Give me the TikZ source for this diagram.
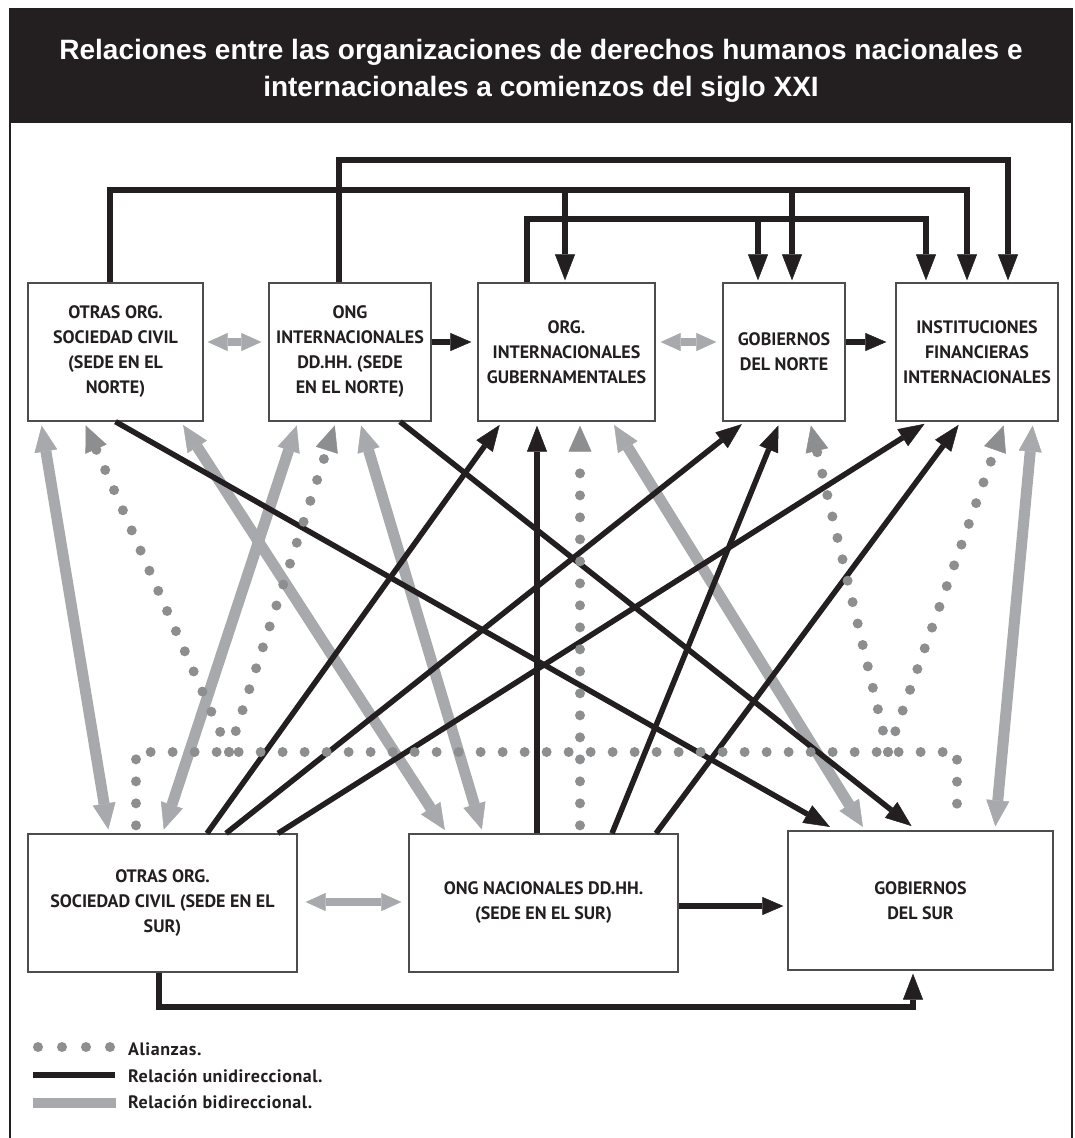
\documentclass[tikz,border=0pt]{standalone}
\usepackage{fontspec}
\setmainfont{PT Sans}
\newfontfamily\titlefont{Liberation Sans}
\newfontfamily\legendfont[LetterSpace=3]{PT Sans}
\usetikzlibrary{arrows.meta, calc}
\definecolor{ink}{HTML}{231F20}
\definecolor{bigrey}{HTML}{A7A9AC}
\definecolor{allygrey}{HTML}{8D8E90}
\definecolor{boxline}{HTML}{4D4D4F}
\begin{document}
\begin{tikzpicture}[
		x = 1pt, y = -1pt,
		box/.style = { draw = boxline, line width = 1.3pt, fill = white, minimum height = 138pt, inner sep = 0pt, align = center, text = ink, font = \fontsize{18}{25}\selectfont\bfseries },
		uni/.style = { draw = ink, line width = 5.5pt, shorten > = 4pt, -{Triangle[length = 26pt, width = 20pt, line width = 0.5pt]} },
		unih/.style = { uni, -{Triangle[length = 21pt, width = 18pt, line width = 0.5pt]} },
		bi/.style = { draw = bigrey, line width = 11pt, shorten > = 4pt, shorten < = 4pt, {Triangle[length = 26pt, width = 23pt, line width = 0.5pt]}-{Triangle[length = 26pt, width = 23pt, line width = 0.5pt]} },
		bih/.style = { bi, line width = 8.5pt, {Triangle[length = 20pt, width = 18pt, line width = 0.5pt]}-{Triangle[length = 20pt, width = 18pt, line width = 0.5pt]} },
		ally/.style = { draw = allygrey, line width = 10pt, line cap = round, dash pattern = on 0pt off 22pt },
		allytip/.style = { shorten > = 4pt, -{Triangle[length = 26pt, width = 23pt, line width = 0.5pt, color = allygrey]} },
		legend/.style = { anchor = base west, inner sep = 0pt, text = ink, font = \legendfont\fontsize{18}{20}\selectfont\bfseries }
	]
	\useasboundingbox (0,0) rectangle (1075,1138);
	\fill [ink] (10,9) rectangle (1072,123);
	\draw [ink, line width = 2pt] (10,1138) -- (10,9) -- (1072,9) -- (1072,1138);
	\node (title) [text = white, align = center, font = \titlefont\fontsize{28}{37}\selectfont\bfseries] at (541,71) { Relaciones entre las organizaciones de derechos humanos nacionales e\\internacionales a comienzos del siglo XXI };

	\node (civN) [box, minimum width = 175pt] at (115.5,352) { OTRAS ORG.\\SOCIEDAD CIVIL\\(SEDE EN EL\\NORTE) };
	\node (ongN) [box, minimum width = 162pt] at (350,352) { ONG\\INTERNACIONALES\\DD.HH. (SEDE\\EN EL NORTE) };
	\node (oig) [box, minimum width = 177pt] at (566.5,352) { ORG.\\INTERNACIONALES\\GUBERNAMENTALES };
	\node (govN) [box, minimum width = 122pt] at (784,352) { GOBIERNOS\\DEL NORTE };
	\node (ifi) [box, minimum width = 162pt] at (977,352) { INSTITUCIONES\\FINANCIERAS\\INTERNACIONALES };
	\node (civS) [box, minimum width = 269pt] at (162.5,903) { OTRAS ORG.\\SOCIEDAD CIVIL (SEDE EN EL\\SUR) };
	\node (ongS) [box, minimum width = 269pt] at (543.5,903) { ONG NACIONALES DD.HH.\\(SEDE EN EL SUR) };
	\node (govS) [box, minimum width = 265pt, minimum height = 139pt] at (920.5,900.5) { GOBIERNOS\\DEL SUR };

	\coordinate (routeA) at (0,160);
	\coordinate (routeB) at (0,190);
	\coordinate (routeC) at (0,219);
	\coordinate (routeS) at (0,1007);
	\coordinate (allyL) at (229,752);
	\coordinate (allyR) at (888,752);

	\draw [bi] ([xshift = -74.5pt]civN.south) -- ([xshift = -53.5pt]civS.north);
	\draw [bi] ([xshift = 65.5pt]civN.south) -- ([xshift = -96.5pt]ongS.north);
	\draw [bi] ([xshift = -52pt]ongN.south) -- (civS.north);
	\draw [bi] ([xshift = 10pt]ongN.south) -- ([xshift = -60.5pt]ongS.north);
	\draw [bi] ([xshift = 45.5pt]oig.south) -- ([xshift = -55.5pt]govS.north);
	\draw [bi] ([xshift = 56pt]ifi.south) -- ([xshift = 74.5pt]govS.north);
	\draw [bih, shorten < = 4pt, shorten > = 7pt] ([yshift = 10pt]civN.east) -- ([yshift = 10pt]ongN.west);
	\draw [bih, shorten < = 5pt, shorten > = 6pt] ([yshift = 10pt]oig.east) -- ([yshift = 10pt]govN.west);
	\draw [bih, shorten < = 8pt, shorten > = 7pt] ([yshift = 1pt]civS.east) -- ([yshift = 1pt]ongS.west);

	\draw [uni, shorten > = 2pt] ([xshift = -11pt]ongN.north) -- ([xshift = -11pt]ongN.north |- routeA) -| ([xshift = 31pt]ifi.north);
	\draw [uni, shorten > = 2pt] ([xshift = -5.5pt]civN.north) -- ([xshift = -5.5pt]civN.north |- routeB) -| ([xshift = -10pt]ifi.north);
	\draw [uni, shorten > = 2pt] ([xshift = -1.5pt]oig.north |- routeB) -- ([xshift = -1.5pt]oig.north);
	\draw [uni, shorten > = 2pt] ([xshift = 8pt]govN.north |- routeB) -- ([xshift = 8pt]govN.north);
	\draw [uni, shorten > = 2pt] ([xshift = -39.5pt]oig.north) -- ([xshift = -39.5pt]oig.north |- routeC) -| ([xshift = -51pt]ifi.north);
	\draw [uni, shorten > = 2pt] ([xshift = -26pt]govN.north |- routeC) -- ([xshift = -26pt]govN.north);
	\draw [unih, shorten > = 6pt] ([yshift = 10pt]ongN.east) -- ([yshift = 10pt]oig.west);
	\draw [unih, shorten > = 9pt] ([yshift = 10pt]govN.east) -- ([yshift = 10pt]ifi.west);
	\draw [unih] ([yshift = -3pt]ongS.east) -- ([yshift = -3pt]ongS.east -| govS.west);
	\draw [uni, shorten > = 3pt] ([xshift = -3.5pt]civS.south) -- ([xshift = -3.5pt]civS.south |- routeS) -| ([xshift = -7.5pt]govS.south);

	\draw [uni, shorten > = 7pt] (civN.south) -- ([xshift = -84.5pt]govS.north);
	\draw [uni, shorten > = 7pt] ([xshift = 50pt]ongN.south) -- ([xshift = -3.5pt]govS.north);
	\draw [uni] ([xshift = 44.5pt]civS.north) -- ([xshift = -64.5pt]oig.south);
	\draw [uni] ([xshift = 63.5pt]civS.north) -- ([xshift = -39pt]govN.south);
	\draw [uni] ([xshift = 115.5pt]civS.north) -- ([xshift = -49pt]ifi.south);
	\draw [uni] ([xshift = -6.5pt]ongS.north) -- ([xshift = -6.5pt]ongS.north |- oig.south);
	\draw [uni] ([xshift = 68.5pt]ongS.north) -- ([xshift = -4pt]govN.south);
	\draw [uni] ([xshift = 112.5pt]ongS.north) -- ([xshift = -16pt]ifi.south);

	\draw [ally, allytip] (allyL) -- ([xshift = -31.5pt]civN.south);
	\draw [ally, allytip] (allyL) -- ([xshift = -14pt]ongN.south);
	\draw [ally, allytip] (allyR) -- ([xshift = 26pt]govN.south);
	\draw [ally, allytip] (allyR) -- ([xshift = 28pt]ifi.south);
	\draw [ally, allytip] ([xshift = 36.5pt, yshift = 8pt]ongS.north) -- ([xshift = 13.5pt]oig.south);
	\draw [ally] ([xshift = -26.5pt, yshift = 8pt]civS.north) |- ([xshift = 36.5pt]govS.north |- allyL) -- ([xshift = 36.5pt, yshift = 8pt]govS.north);

	\node (legAlly) [legend] at (128,1055) { Alianzas. };
	\node (legUni) [legend] at (128,1082) { Relación unidireccional. };
	\node (legBi) [legend] at (128,1108) { Relación bidireccional. };
	\draw [ally, dash pattern = on 0pt off 24pt] ([xshift = -90pt, yshift = 8pt]legAlly.base west) -- ([xshift = -18pt, yshift = 8pt]legAlly.base west);
	\draw [ink, line width = 5.5pt] ([xshift = -95pt, yshift = 7pt]legUni.base west) -- ([xshift = -13pt, yshift = 7pt]legUni.base west);
	\draw [bigrey, line width = 10pt] ([xshift = -95pt, yshift = 5pt]legBi.base west) -- ([xshift = -12pt, yshift = 5pt]legBi.base west);
\end{tikzpicture}
\end{document}
